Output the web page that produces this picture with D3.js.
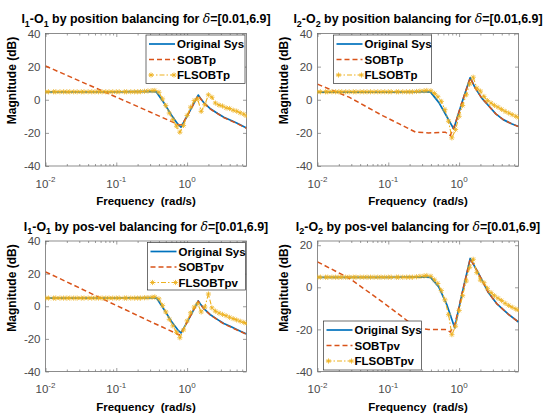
<!DOCTYPE html>
<html>
<head>
<meta charset="utf-8">
<script src="https://cdn.jsdelivr.net/npm/d3@7"></script>
<style>
  html, body { margin: 0; padding: 0; background: #fff; }
  svg { display: block; font-family: "Liberation Sans", Arial, Helvetica, sans-serif; }
  text { white-space: pre; }
</style>
</head>
<body>
<svg id="fig" width="546" height="419"></svg>
<script>
// ---------------- data ----------------
// shared frequency grid (rad/s) of the FLSOBT responses
const freqGrid = [0.010, 0.011, 0.013, 0.014, 0.016, 0.018, 0.020, 0.022, 0.025, 0.028,
  0.032, 0.035, 0.040, 0.045, 0.050, 0.056, 0.063, 0.071, 0.079, 0.089,
  0.10, 0.11, 0.13, 0.14, 0.16, 0.18, 0.20, 0.22, 0.25, 0.28,
  0.32, 0.35, 0.40, 0.45, 0.50, 0.56, 0.63, 0.71, 0.79, 0.89,
  1.00, 1.12, 1.26, 1.41, 1.58, 1.78, 2.00, 2.24, 2.51, 2.82,
  3.16, 3.55, 3.98, 4.47, 5.01, 5.62, 6.31, 6.90];

// I1-O1, position balancing
const origF_p11  = [0.01, 0.1, 0.3, 0.366, 0.48, 0.595, 0.737, 0.82, 1.0, 1.2, 1.435, 1.55, 1.74, 2.16, 2.7, 3.3, 4.2, 5.1, 6.9];
const origDb_p11 = [4.8, 4.8, 5.1, 4.8, -2.4, -9, -14.6, -16.6, -9.8, -3.5, 2.8, 0.8, -2, -5.6, -8.3, -10.6, -12.5, -14.2, -17];
const sobtF_p11  = [0.01, 0.1, 0.3, 0.78, 0.85, 1.0, 1.2, 1.435, 1.74, 2.16, 3.3, 5.1, 6.9];
const sobtDb_p11 = [20.4, 1.6, -7.4, -15.3, -15.0, -9.8, -3.5, 2.6, -2.2, -5.8, -10.8, -14.4, -17.2];
const flsDb_p11  = [4.8, 4.8, 4.8, 4.8, 4.8, 4.8, 4.8, 4.8, 4.8, 4.8,
  4.8, 4.8, 4.8, 4.8, 4.8, 4.8, 4.8, 4.8, 4.8, 4.8,
  4.8, 4.8, 4.8, 4.8, 4.8, 4.8, 4.8, 4.9, 5.1, 5.3,
  5.5, 5.6, 4.5, 0.5, -3.5, -8, -12, -16, -19.6, -15.5,
  -9.5, -4.5, -0.5, 0.5, -7, -3, 3.0, 1.5, -2, -3.2,
  -3.8, -4.9, -5.3, -6.3, -6.9, -7.9, -8.7, -9.8];

// I2-O2, position balancing
const origF_p22  = [0.01, 0.1, 0.3, 0.395, 0.516, 0.64, 0.838, 1.1, 1.435, 1.69, 2.09, 2.59, 3.3, 4.2, 5.5, 6.9];
const origDb_p22 = [4.6, 4.6, 4.9, 4.6, -1.6, -8.6, -17.6, -1.5, 13.4, 7, 1, -3.5, -8.5, -12, -14.5, -16.2];
const sobtF_p22  = [0.01, 0.0284, 0.083, 0.143, 0.244, 0.37, 0.64, 0.75, 0.88, 1.1, 1.435, 1.69, 2.09, 2.59, 3.3, 4.2, 5.5, 6.9];
const sobtDb_p22 = [9.4, 1.4, -9.6, -14.6, -19.6, -20, -19.6, -21.6, -14.6, -1.5, 13.2, 7, 1, -3.5, -8.5, -12, -14.5, -16.2];
const flsDb_p22  = [4.8, 4.8, 4.8, 4.8, 4.8, 4.8, 4.8, 4.8, 4.8, 4.8,
  4.8, 4.8, 4.8, 4.8, 4.8, 4.8, 4.8, 4.8, 4.8, 4.8,
  4.8, 4.8, 4.8, 4.8, 4.8, 4.8, 4.8, 4.8, 5.0, 5.2,
  5.4, 5.6, 5.4, 3.8, 1.8, -1, -6, -13, -23, -18,
  -10, -3.5, 3, 9.5, 13.6, 7, 5.2, 2, -0.5, -2,
  -3.4, -4.5, -5.8, -7, -8, -9, -10, -10.8];

// I1-O1, pos-vel balancing
const origF_pv11  = [0.01, 0.1, 0.3, 0.37, 0.48, 0.595, 0.737, 0.82, 1.0, 1.2, 1.435, 1.55, 1.74, 2.16, 2.7, 3.3, 4.2, 5.1, 6.9];
const origDb_pv11 = [5, 5, 5.3, 5, -2.4, -9, -14.4, -16.4, -9.7, -3.3, 3.3, 1.2, -1.6, -5.4, -8.2, -10.6, -12.6, -14.4, -17];
const sobtF_pv11  = [0.01, 0.1, 0.3, 0.78, 0.85, 1.0, 1.2, 1.435, 1.74, 2.16, 3.3, 5.1, 6.9];
const sobtDb_pv11 = [21.1, 0.5, -9.3, -17.6, -15.5, -9.7, -3.3, 3.0, -1.8, -5.6, -10.8, -14.6, -17.2];
const flsDb_pv11  = [5.0, 5.0, 5.0, 5.0, 5.0, 5.0, 5.0, 5.0, 5.0, 5.0,
  5.0, 5.0, 5.0, 5.0, 5.0, 5.0, 5.0, 5.0, 5.0, 5.0,
  5.0, 5.0, 5.0, 5.0, 5.0, 5.0, 5.0, 5.0, 5.2, 5.3,
  5.5, 5.7, 4.5, 0.5, -3.5, -8, -12, -16, -19.3, -14.5,
  -9, -4, -0.5, 1.5, -3.5, -0.5, 7.5, -1, -3, -4.2,
  -5, -5.8, -6.8, -7.6, -8.4, -9.2, -9.9, -10.5];

// I2-O2, pos-vel balancing
const origF_pv22  = [0.01, 0.1, 0.3, 0.395, 0.516, 0.675, 0.866, 1.1, 1.435, 1.88, 2.59, 3.39, 4.95, 6.9];
const origDb_pv22 = [4.7, 4.7, 5.0, 4.7, 0.2, -8.5, -19.2, -3, 13.7, 6.6, -2.5, -7.7, -12.8, -16.5];
const sobtF_pv22  = [0.01, 0.0284, 0.083, 0.196, 0.244, 0.37, 0.64, 0.75, 0.866, 1.1, 1.435, 1.88, 2.59, 3.39, 4.95, 6.9];
const sobtDb_pv22 = [12.1, 4.2, -7, -16.5, -19.2, -20.1, -20.1, -21.2, -18, -3, 13.5, 6.6, -2.5, -7.7, -12.8, -16.5];
const flsDb_pv22  = [4.8, 4.8, 4.8, 4.8, 4.8, 4.8, 4.8, 4.8, 4.8, 4.8,
  4.8, 4.8, 4.8, 4.8, 4.8, 4.8, 4.8, 4.8, 4.8, 4.8,
  4.8, 4.8, 4.8, 4.8, 4.8, 4.8, 4.8, 4.8, 5.0, 5.2,
  5.4, 5.6, 5.2, 3.5, 1.8, -1.5, -6, -13, -22.5, -18.5,
  -11, -4, 3, 9.5, 13.3, 7, 3.4, 2.2, -0.5, -2.5,
  -4, -5.2, -6.3, -7.6, -8.6, -9.5, -10.3, -10.9];

// labels and ticks
const legendPos    = ["Original Sys", "SOBTp", "FLSOBTp"];
const legendPosVel = ["Original Sys", "SOBTpv", "FLSOBTpv"];
const yTicksFull   = [-40, -20, 0, 20, 40];
const yTicksShort  = [-40, -20, 0, 20];
const xTickExps    = [-2, -1, 0];
const freqDomain   = [0.01, 6.9];
const xLabelText   = "Frequency  (rad/s)";
const yLabelText   = "Magnitude (dB)";

// ---------------- layout / style ----------------
const colOrig = "#0072BD", colSobt = "#D95319", colFls = "#EDB120";
const svg = d3.select("#fig");

const panels = [
  { id: "p11", left: 45.5, right: 246.5, top: 33.5, bottom: 166, yDomain: [-40, 40], yTicks: yTicksFull,
    io: "1", method: "position", legend: legendPos, box: [146, 35, 245, 83.5],
    orig: [origF_p11, origDb_p11], sobt: [sobtF_p11, sobtDb_p11], fls: flsDb_p11 },
  { id: "p22", left: 317.5, right: 518.5, top: 33.5, bottom: 166, yDomain: [-40, 40], yTicks: yTicksFull,
    io: "2", method: "position", legend: legendPos, box: [333.5, 35, 431.5, 83.5],
    orig: [origF_p22, origDb_p22], sobt: [sobtF_p22, sobtDb_p22], fls: flsDb_p22 },
  { id: "pv11", left: 45.5, right: 246.5, top: 241, bottom: 371.5, yDomain: [-40, 40], yTicks: yTicksFull,
    io: "1", method: "pos-vel", legend: legendPosVel, box: [147.5, 242.5, 245.5, 290],
    orig: [origF_pv11, origDb_pv11], sobt: [sobtF_pv11, sobtDb_pv11], fls: flsDb_pv11 },
  { id: "pv22", left: 317.5, right: 518.5, top: 241, bottom: 371.5, yDomain: [-40, 22], yTicks: yTicksShort,
    io: "2", method: "pos-vel", legend: legendPosVel, box: [323.5, 321, 421.5, 370],
    orig: [origF_pv22, origDb_pv22], sobt: [sobtF_pv22, sobtDb_pv22], fls: flsDb_pv22 }
];

// asterisk marker ('*' style): horizontal, vertical and two diagonal strokes
function starPath(r) {
  const d = r * 0.72;
  return `M${-r},0H${r}M0,${-r}V${r}M${-d},${-d}L${d},${d}M${-d},${d}L${d},${-d}`;
}

function drawPanel(p) {
  const g = svg.append("g").attr("class", "panel-" + p.id);
  const x = d3.scaleLog().domain(freqDomain).range([p.left, p.right]);
  const y = d3.scaleLinear().domain(p.yDomain).range([p.bottom, p.top]);
  const cx = (p.left + p.right) / 2;

  // clip region for the curves
  const clipId = "clip-" + p.id;
  svg.append("clipPath").attr("id", clipId).append("rect")
    .attr("x", p.left).attr("y", p.top)
    .attr("width", p.right - p.left).attr("height", p.bottom - p.top);

  // axes (ticks point inward, mirrored on top/right)
  const tickCol = "#5a5a5a";
  const minor = [];
  [0.01, 0.1, 1].forEach(dec => { for (let k = 2; k <= 9; k++) { const v = dec * k; if (v <= freqDomain[1]) minor.push(v); } });
  const major = xTickExps.map(e => Math.pow(10, e));

  const axes = [
    [d3.axisBottom(x).tickValues(major).tickSize(-3.5), p.bottom],
    [d3.axisBottom(x).tickValues(minor).tickSize(-2), p.bottom],
    [d3.axisTop(x).tickValues(major).tickSize(-3.5), p.top],
    [d3.axisTop(x).tickValues(minor).tickSize(-2), p.top]
  ];
  axes.forEach(([ax, ty]) => {
    g.append("g").attr("transform", `translate(0,${ty})`)
      .call(ax.tickFormat("").tickSizeOuter(0))
      .call(s => s.select(".domain").remove())
      .call(s => s.selectAll("line").attr("stroke", tickCol).attr("stroke-width", 0.6));
  });
  g.append("g").attr("transform", `translate(${p.left},0)`)
    .call(d3.axisLeft(y).tickValues(p.yTicks).tickSize(-3.5).tickSizeOuter(0).tickPadding(5).tickFormat(d3.format("d")))
    .call(s => s.select(".domain").remove())
    .call(s => s.selectAll("line").attr("stroke", tickCol).attr("stroke-width", 0.6))
    .call(s => s.selectAll("text").attr("fill", "#4a4a4a").attr("font-size", 11.5)
      .attr("font-family", "\"Liberation Sans\", Arial, sans-serif").text(d => d < 0 ? "-" + Math.abs(d) : d));
  g.append("g").attr("transform", `translate(${p.right},0)`)
    .call(d3.axisRight(y).tickValues(p.yTicks).tickSize(-3.5).tickSizeOuter(0).tickFormat(""))
    .call(s => s.select(".domain").remove())
    .call(s => s.selectAll("line").attr("stroke", tickCol).attr("stroke-width", 0.6));

  // x tick labels as powers of ten
  const xl = g.append("g").selectAll("text").data(xTickExps).join("text")
    .attr("x", e => x(Math.pow(10, e)))
    .attr("y", p.bottom + 21.5)
    .attr("text-anchor", "middle").attr("font-size", 11.5).attr("fill", "#4a4a4a");
  xl.append("tspan").text("10");
  xl.append("tspan").attr("dy", -5.5).attr("font-size", 8).text(e => e < 0 ? "-" + Math.abs(e) : String(e));

  // frame
  g.append("rect").attr("x", p.left).attr("y", p.top)
    .attr("width", p.right - p.left).attr("height", p.bottom - p.top)
    .attr("fill", "none").attr("stroke", "#707070").attr("stroke-width", 0.8);

  // curves
  const line = d3.line().x(d => x(d[0])).y(d => y(d[1]));
  const plot = g.append("g").attr("clip-path", `url(#${clipId})`);
  const origPts = d3.zip(p.orig[0], p.orig[1]);
  const sobtPts = d3.zip(p.sobt[0], p.sobt[1]);
  const flsPts = d3.zip(freqGrid, p.fls);

  plot.append("path").datum(origPts).attr("d", line)
    .attr("fill", "none").attr("stroke", colOrig).attr("stroke-width", 1.7).attr("stroke-linejoin", "round");
  plot.append("path").datum(sobtPts).attr("d", line)
    .attr("fill", "none").attr("stroke", colSobt).attr("stroke-width", 1.5).attr("stroke-dasharray", "5,3");
  plot.append("path").datum(flsPts).attr("d", line)
    .attr("fill", "none").attr("stroke", colFls).attr("stroke-width", 1.1).attr("stroke-dasharray", "5,2,1.5,2");
  plot.append("g").selectAll("path").data(flsPts).join("path")
    .attr("transform", d => `translate(${x(d[0])},${y(d[1])})`)
    .attr("d", starPath(2.6))
    .attr("fill", "none").attr("stroke", colFls).attr("stroke-width", 0.8);

  // title: I<sub>k</sub>-O<sub>k</sub> by ... balancing for δ=[0.01,6.9]
  const tt = g.append("text").attr("x", cx).attr("y", p.top - 10.5)
    .attr("text-anchor", "middle").attr("font-size", 12.4).attr("font-weight", "bold").attr("fill", "#000");
  tt.append("tspan").text("I");
  tt.append("tspan").attr("dy", 3.5).attr("font-size", 9).text(p.io);
  tt.append("tspan").attr("dy", -3.5).text("-O");
  tt.append("tspan").attr("dy", 3.5).attr("font-size", 9).text(p.io);
  tt.append("tspan").attr("dy", -3.5).text(` by ${p.method} balancing for `);
  tt.append("tspan").attr("font-style", "italic").attr("font-weight", "normal")
    .attr("font-family", "\"DejaVu Serif\", serif").text("δ");
  tt.append("tspan").text("=[0.01,6.9]");

  // axis labels
  g.append("text").attr("x", cx).attr("y", p.bottom + 39)
    .attr("text-anchor", "middle").attr("font-size", 11.5).attr("font-weight", "bold").text(xLabelText);
  g.append("text").attr("transform", `translate(${p.left - 30},${p.top + 47}) rotate(-90)`)
    .attr("text-anchor", "middle").attr("font-size", 12).attr("font-weight", "bold").text(yLabelText);

  // legend
  const [bx0, by0, bx1, by1] = p.box;
  const lg = g.append("g");
  lg.append("rect").attr("x", bx0).attr("y", by0).attr("width", bx1 - bx0).attr("height", by1 - by0)
    .attr("fill", "#fff").attr("stroke", "#333").attr("stroke-width", 0.7);
  const rowOff = [9, 24.5, 40];
  const styles = [
    { c: colOrig, w: 1.7, dash: null },
    { c: colSobt, w: 1.5, dash: "5,3" },
    { c: colFls, w: 1.1, dash: "5,2,1.5,2" }
  ];
  p.legend.forEach((lab, i) => {
    const ry = by0 + rowOff[i];
    const lx0 = bx0 + 3, lx1 = bx0 + 29;
    const ln = lg.append("line").attr("x1", lx0).attr("x2", lx1).attr("y1", ry).attr("y2", ry)
      .attr("stroke", styles[i].c).attr("stroke-width", styles[i].w);
    if (styles[i].dash) ln.attr("stroke-dasharray", styles[i].dash);
    if (i === 2) {
      [lx0 + 2, lx1 - 1].forEach(mx => lg.append("path").attr("transform", `translate(${mx},${ry})`)
        .attr("d", starPath(2.6)).attr("fill", "none").attr("stroke", colFls).attr("stroke-width", 0.8));
    }
    lg.append("text").attr("x", bx0 + 31).attr("y", ry + 4.2)
      .attr("font-size", 11.5).attr("font-weight", "bold").attr("fill", "#000").text(lab);
  });
}

panels.forEach(drawPanel);
</script>
</body>
</html>
